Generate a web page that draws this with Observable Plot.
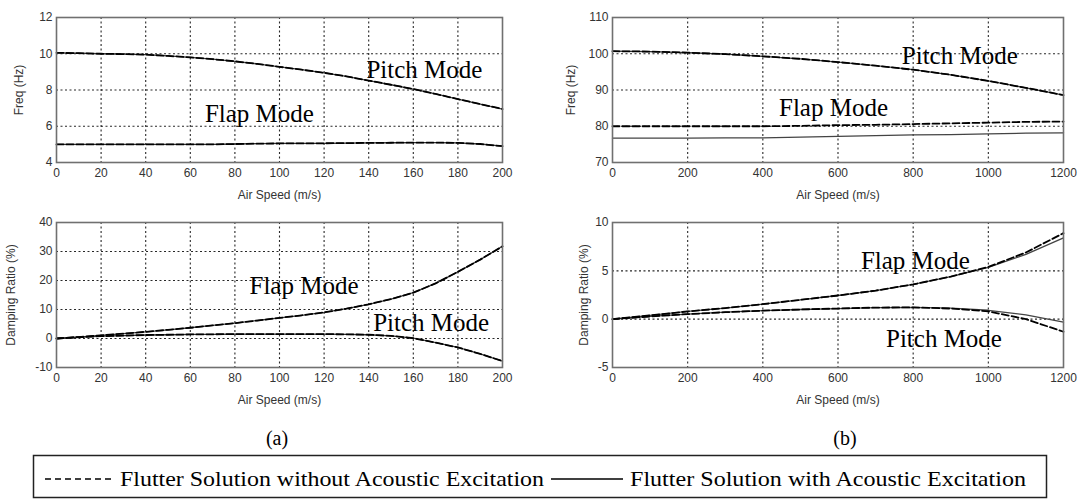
<!DOCTYPE html>
<html><head><meta charset="utf-8">
<script src="https://cdn.jsdelivr.net/npm/d3@7"></script>
<script src="https://cdn.jsdelivr.net/npm/@observablehq/plot@0.6"></script>
<style>
body{margin:0;background:#fff;}
#fig{position:relative;width:1080px;height:499px;overflow:hidden;background:#fff}
.panel{position:absolute}
.cap{position:absolute;font-family:"Liberation Serif","Times New Roman",serif;font-size:20px;color:#000;transform:translate(-50%,-50%)}
</style></head><body><div id="fig"></div><script>
// ---------- data ----------
// (a) panel: air speed 0..200 m/s
const speedA = [0,10,20,30,40,50,60,70,80,90,100,110,120,130,140,150,160,170,180,190,200];
const freqPitchA = [10.05,10.03,10.0,9.98,9.95,9.88,9.8,9.7,9.58,9.44,9.28,9.12,8.95,8.75,8.52,8.29,8.05,7.78,7.5,7.22,6.95];
const freqFlapA  = [5.0,5.0,5.0,5.0,5.0,5.0,5.0,5.0,5.02,5.04,5.05,5.05,5.06,5.07,5.08,5.09,5.1,5.1,5.08,5.02,4.9];
const dampFlapA  = [0,0.5,1.1,1.7,2.3,3.0,3.7,4.5,5.3,6.2,7.1,8.0,9.0,10.3,11.8,13.6,15.8,19.0,23.0,27.2,31.8];
const dampPitchA = [0,0.45,0.8,1.0,1.2,1.3,1.4,1.45,1.5,1.5,1.5,1.5,1.5,1.45,1.3,0.9,0.1,-1.4,-3.1,-5.3,-7.8];
// (b) panel: air speed 0..1200 m/s
const speedB = [0,100,200,300,400,500,600,700,800,900,1000,1100,1200];
const freqPitchB      = [100.7,100.6,100.3,99.9,99.3,98.6,97.7,96.7,95.6,94.2,92.5,90.6,88.6];
const freqFlapB_noAc  = [80.0,80.0,80.0,80.0,80.0,80.1,80.3,80.4,80.6,80.8,81.0,81.2,81.3];
const freqFlapB_ac    = [76.7,76.7,76.7,76.8,76.8,77.0,77.2,77.4,77.6,77.7,77.9,78.1,78.2];
const dampFlapB_noAc  = [0,0.4,0.8,1.15,1.55,2.0,2.45,2.95,3.6,4.4,5.4,6.9,8.9];
const dampFlapB_ac    = [0,0.4,0.8,1.15,1.55,2.0,2.45,2.95,3.6,4.4,5.35,6.7,8.4];
const dampPitchB_noAc = [0,0.28,0.52,0.72,0.88,1.0,1.1,1.2,1.22,1.1,0.8,0.0,-1.3];
const dampPitchB_ac   = [0,0.28,0.52,0.72,0.88,1.0,1.1,1.2,1.22,1.15,0.92,0.45,-0.3];
// tick values
const ticksXA = [0,20,40,60,80,100,120,140,160,180,200];
const ticksXB = [0,200,400,600,800,1000,1200];
const ticksFreqA = [4,6,8,10,12];
const ticksFreqB = [70,80,90,100,110];
const ticksDampA = [-10,0,10,20,30,40];
const ticksDampB = [-5,0,5,10];
// annotation texts
const modeLabels = {
  freqA: [{x:165,y:9.1,t:"Pitch Mode"},{x:91,y:6.67,t:"Flap Mode"}],
  freqB: [{x:924,y:99.4,t:"Pitch Mode"},{x:588,y:84.9,t:"Flap Mode"}],
  dampA: [{x:111,y:18.0,t:"Flap Mode"},{x:168,y:5.2,t:"Pitch Mode"}],
  dampB: [{x:806,y:6.0,t:"Flap Mode"},{x:882,y:-2.0,t:"Pitch Mode"}]
};
const legendItems = ["Flutter Solution without Acoustic Excitation","Flutter Solution with Acoustic Excitation"];
const subCaptions = ["(a)","(b)"];

// ---------- drawing ----------
const rows = (xs, ys) => xs.map((x, i) => ({x, y: ys[i]}));
const interior = t => t.slice(1, -1);
const sans = '"Liberation Sans", Arial, sans-serif';
const serif = '"Liberation Serif", "Times New Roman", serif';

function panel({left, top, ml, mr, xDomain, yDomain, xTicks, yTicks, yLabel, yLabelOffset, solid, dashed, labels}) {
  const chart = Plot.plot({
    width: 540, height: 210,
    marginLeft: ml, marginRight: mr, marginTop: 17, marginBottom: 48,
    style: {fontFamily: sans, fontSize: "12px", color: "#333", background: "transparent"},
    x: {domain: xDomain},
    y: {domain: yDomain},
    marks: [
      Plot.gridX(interior(xTicks), {stroke: "#111", strokeOpacity: 0.9, strokeWidth: 1.1, strokeDasharray: "2,2.5"}),
      Plot.gridY(interior(yTicks), {stroke: "#111", strokeOpacity: 0.9, strokeWidth: 1.1, strokeDasharray: "2,2.5"}),
      ...solid.map(s => Plot.line(rows(s[0], s[1]), {x: "x", y: "y", stroke: "#444", strokeWidth: 1.3})),
      ...dashed.map(s => Plot.line(rows(s[0], s[1]), {x: "x", y: "y", stroke: "#000", strokeWidth: 1.8, strokeDasharray: "7,3"})),
      Plot.text(labels, {x: "x", y: "y", text: "t", fontFamily: serif, fontSize: 25, fill: "#000"}),
      Plot.frame({stroke: "#707070", strokeWidth: 1.6}),
      Plot.axisX(xTicks, {tickSize: 0, tickPadding: 6, tickFormat: d => String(d), label: "Air Speed (m/s)", labelAnchor: "center", labelArrow: "none", labelOffset: 36, fill: "#333"}),
      Plot.axisY(yTicks, {tickSize: 0, tickPadding: 4, tickFormat: d => String(d), label: yLabel, labelAnchor: "center", labelArrow: "none", labelOffset: yLabelOffset, fill: "#333", fontSize: 12})
    ]
  });
  const d = document.createElement("div");
  d.className = "panel";
  d.style.left = left + "px"; d.style.top = top + "px";
  d.appendChild(chart);
  document.getElementById("fig").appendChild(d);
}

panel({left: 0, top: 0, ml: 56, mr: 38, xDomain: [0,200], yDomain: [4,12], xTicks: ticksXA, yTicks: ticksFreqA,
  yLabel: "Freq (Hz)", yLabelOffset: 42,
  solid: [[speedA, freqPitchA],[speedA, freqFlapA]], dashed: [[speedA, freqPitchA],[speedA, freqFlapA]], labels: modeLabels.freqA});
panel({left: 540, top: 0, ml: 72, mr: 17, xDomain: [0,1200], yDomain: [70,110], xTicks: ticksXB, yTicks: ticksFreqB,
  yLabel: "Freq (Hz)", yLabelOffset: 46,
  solid: [[speedB, freqPitchB],[speedB, freqFlapB_ac]], dashed: [[speedB, freqPitchB],[speedB, freqFlapB_noAc]], labels: modeLabels.freqB});
panel({left: 0, top: 205, ml: 56, mr: 38, xDomain: [0,200], yDomain: [-10,40], xTicks: ticksXA, yTicks: ticksDampA,
  yLabel: "Damping Ratio (%)", yLabelOffset: 50,
  solid: [[speedA, dampFlapA],[speedA, dampPitchA]], dashed: [[speedA, dampFlapA],[speedA, dampPitchA]], labels: modeLabels.dampA});
panel({left: 540, top: 205, ml: 72, mr: 17, xDomain: [0,1200], yDomain: [-5,10], xTicks: ticksXB, yTicks: ticksDampB,
  yLabel: "Damping Ratio (%)", yLabelOffset: 33,
  solid: [[speedB, dampFlapB_ac],[speedB, dampPitchB_ac]], dashed: [[speedB, dampFlapB_noAc],[speedB, dampPitchB_noAc]], labels: modeLabels.dampB});

// sub captions
[[277, subCaptions[0]], [845, subCaptions[1]]].forEach(([cx, t]) => {
  const c = document.createElement("div");
  c.className = "cap"; c.style.left = cx + "px"; c.style.top = "438px"; c.textContent = t;
  document.getElementById("fig").appendChild(c);
});

// legend box
const lg = d3.select("#fig").append("svg")
  .attr("width", 1080).attr("height", 60)
  .style("position", "absolute").style("left", "0px").style("top", "445px");
lg.append("rect").attr("x", 33.5).attr("y", 10.5).attr("width", 1013).attr("height", 42)
  .attr("fill", "none").attr("stroke", "#222").attr("stroke-width", 1.5);
lg.append("line").attr("x1", 45).attr("x2", 113).attr("y1", 34).attr("y2", 34)
  .attr("stroke", "#000").attr("stroke-width", 1.6).attr("stroke-dasharray", "6,4");
lg.append("line").attr("x1", 551).attr("x2", 623).attr("y1", 34).attr("y2", 34)
  .attr("stroke", "#000").attr("stroke-width", 1.3);
[[120, 424, legendItems[0]], [630, 396, legendItems[1]]].forEach(([x, w, t]) => {
  lg.append("text").attr("x", x).attr("y", 41).attr("textLength", w).attr("lengthAdjust", "spacingAndGlyphs")
    .attr("font-family", serif).attr("font-size", 22).attr("fill", "#000").text(t);
});
</script></body></html>
